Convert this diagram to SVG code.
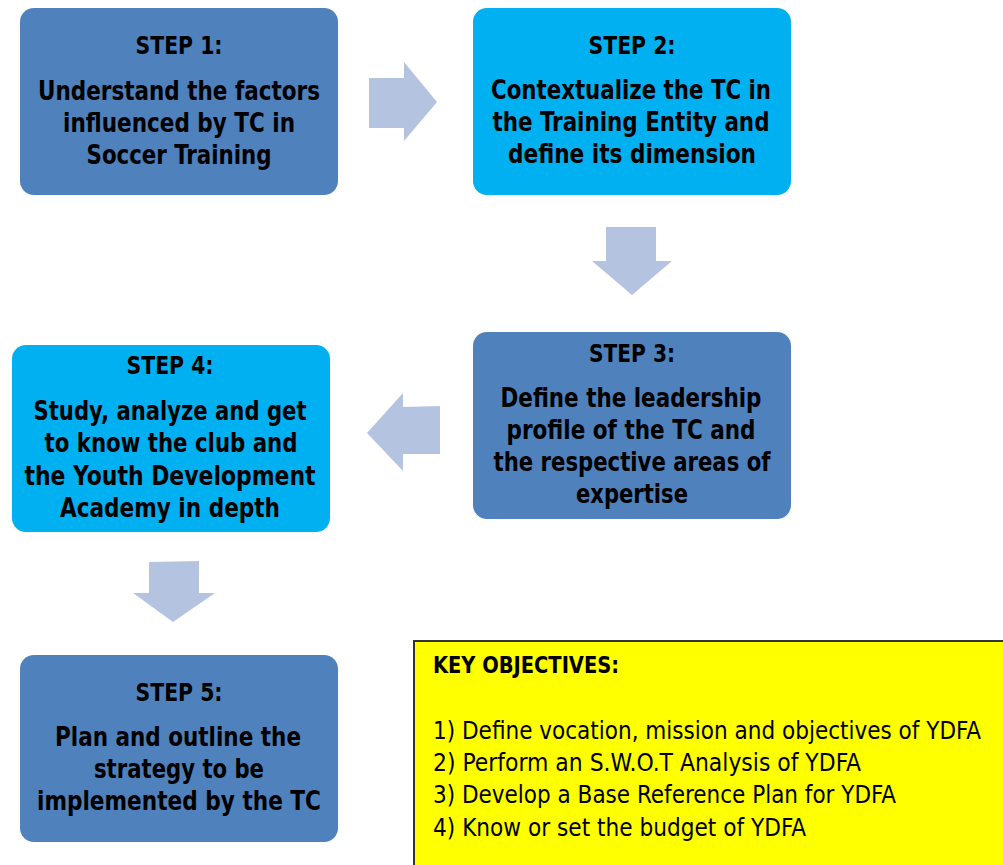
<svg xmlns="http://www.w3.org/2000/svg" width="1003" height="865" viewBox="0 0 1003 865">
<style>
.dark{fill:#4F81BD;}
.light{fill:#00B0F0;}
.arrow{fill:#B4C4E0;}
.t{font-family:"DejaVu Sans Condensed","Liberation Sans",sans-serif;font-weight:bold;fill:#000;text-anchor:middle;}
.h{font-size:24px;}
.b{font-size:26px;}
.k{font-family:"DejaVu Sans Condensed","Liberation Sans",sans-serif;fill:#000;}
</style>
<rect width="1003" height="865" fill="#fff"/>
<g id="connectors">
<polygon class="arrow" points="369,78 404,78 404,62 437,102 404,141 404,128 369,128"/>
<polygon class="arrow" points="606,227 656,227 656,261 672,261 632,295 592,261 606,261"/>
<polygon class="arrow" points="440,406 403,407 403,393 367,433 403,471 403,454 440,454"/>
<polygon class="arrow" points="149,562 199,561 199,593 215,593 173,622 133,593 149,593"/>
</g>
<g id="step1">
<rect class="dark" x="20" y="8" width="318" height="187" rx="14"/>
<text class="t h" x="179" y="54" textLength="87" lengthAdjust="spacingAndGlyphs">STEP 1:</text>
<text class="t b" x="179" y="100" textLength="282" lengthAdjust="spacingAndGlyphs">Understand the factors</text>
<text class="t b" x="179" y="132" textLength="232" lengthAdjust="spacingAndGlyphs">influenced by TC in</text>
<text class="t b" x="179" y="164" textLength="185" lengthAdjust="spacingAndGlyphs">Soccer Training</text>
</g>
<g id="step2">
<rect class="light" x="473" y="8" width="318" height="187" rx="14"/>
<text class="t h" x="632" y="54" textLength="87" lengthAdjust="spacingAndGlyphs">STEP 2:</text>
<text class="t b" x="631" y="99" textLength="280" lengthAdjust="spacingAndGlyphs">Contextualize the TC in</text>
<text class="t b" x="631" y="131" textLength="277" lengthAdjust="spacingAndGlyphs">the Training Entity and</text>
<text class="t b" x="632" y="163" textLength="248" lengthAdjust="spacingAndGlyphs">define its dimension</text>
</g>
<g id="step3">
<rect class="dark" x="473" y="332" width="318" height="187" rx="14"/>
<text class="t h" x="632" y="362" textLength="86" lengthAdjust="spacingAndGlyphs">STEP 3:</text>
<text class="t b" x="631" y="407" textLength="261" lengthAdjust="spacingAndGlyphs">Define the leadership</text>
<text class="t b" x="631" y="439" textLength="249" lengthAdjust="spacingAndGlyphs">profile of the TC and</text>
<text class="t b" x="632" y="471" textLength="277" lengthAdjust="spacingAndGlyphs">the respective areas of</text>
<text class="t b" x="632" y="503" textLength="112" lengthAdjust="spacingAndGlyphs">expertise</text>
</g>
<g id="step4">
<rect class="light" x="12" y="345" width="318" height="187" rx="14"/>
<text class="t h" x="170" y="374" textLength="87" lengthAdjust="spacingAndGlyphs">STEP 4:</text>
<text class="t b" x="170" y="420" textLength="273" lengthAdjust="spacingAndGlyphs">Study, analyze and get</text>
<text class="t b" x="171" y="452" textLength="253" lengthAdjust="spacingAndGlyphs">to know the club and</text>
<text class="t b" x="170" y="485" textLength="291" lengthAdjust="spacingAndGlyphs">the Youth Development</text>
<text class="t b" x="170" y="517" textLength="220" lengthAdjust="spacingAndGlyphs">Academy in depth</text>
</g>
<g id="step5">
<rect class="dark" x="20" y="655" width="318" height="187" rx="14"/>
<text class="t h" x="179" y="701" textLength="87" lengthAdjust="spacingAndGlyphs">STEP 5:</text>
<text class="t b" x="178" y="746" textLength="246" lengthAdjust="spacingAndGlyphs">Plan and outline the</text>
<text class="t b" x="179" y="778" textLength="170" lengthAdjust="spacingAndGlyphs">strategy to be</text>
<text class="t b" x="179" y="810" textLength="284" lengthAdjust="spacingAndGlyphs">implemented by the TC</text>
</g>
<g id="objectives">
<rect x="414" y="641" width="600" height="240" fill="#FFFF00" stroke="#333" stroke-width="2"/>
<text class="k" x="433" y="673" font-size="23" font-weight="bold" textLength="186" lengthAdjust="spacingAndGlyphs">KEY OBJECTIVES:</text>
<text class="k" x="433" y="739" font-size="24" textLength="548" lengthAdjust="spacingAndGlyphs">1) Define vocation, mission and objectives of YDFA</text>
<text class="k" x="433" y="771" font-size="24" textLength="428" lengthAdjust="spacingAndGlyphs">2) Perform an S.W.O.T Analysis of YDFA</text>
<text class="k" x="433" y="803" font-size="24" textLength="463" lengthAdjust="spacingAndGlyphs">3) Develop a Base Reference Plan for YDFA</text>
<text class="k" x="433" y="836" font-size="24" textLength="373" lengthAdjust="spacingAndGlyphs">4) Know or set the budget of YDFA</text>
</g>
</svg>
